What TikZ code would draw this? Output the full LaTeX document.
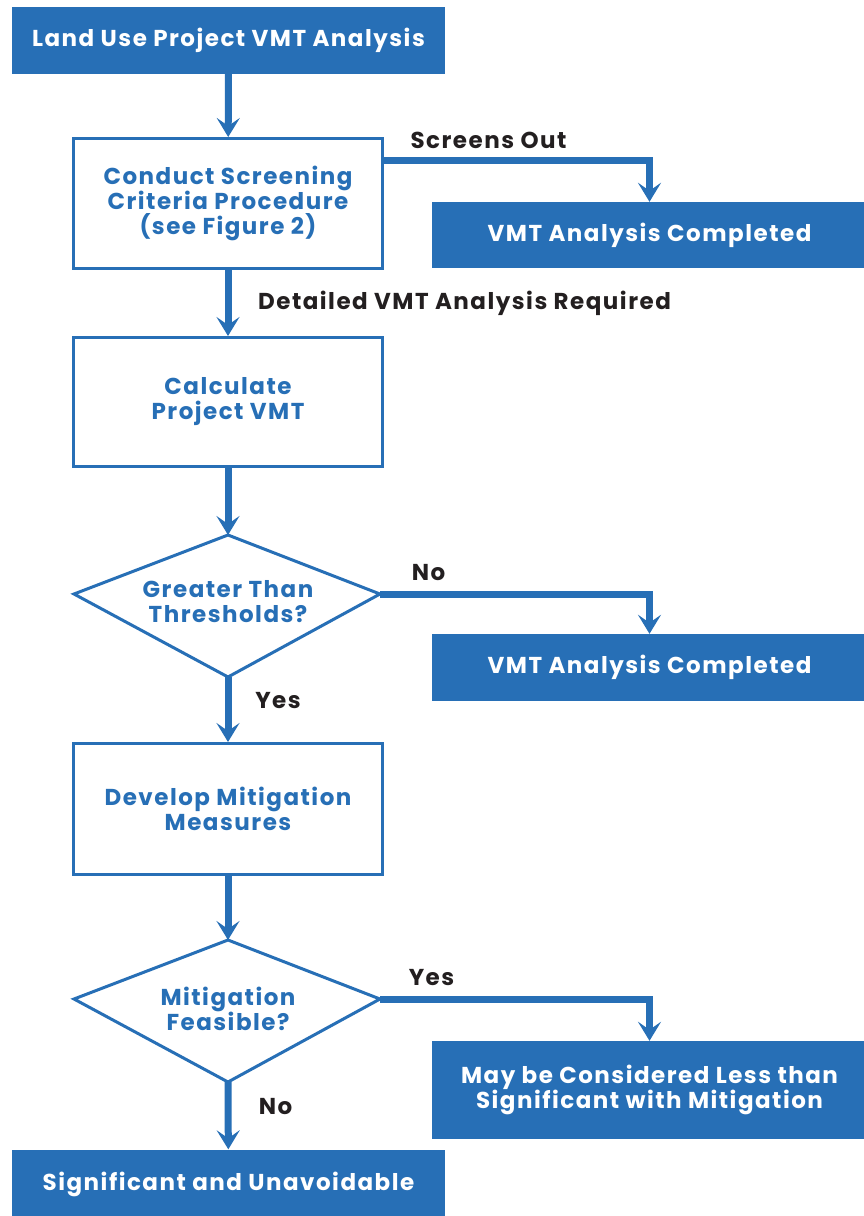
\documentclass[tikz,border=0pt]{standalone}
\usepackage{fontspec}
\setmainfont{Poppins}[LetterSpace=6.5]
\usetikzlibrary{arrows.meta}
\definecolor{vmtblue}{RGB}{39,111,182}
\definecolor{lblblack}{RGB}{35,31,32}

\begin{document}
\begin{tikzpicture}[x=1pt, y=-1pt,
  txt/.style = {font=\bfseries\fontsize{23}{25}\selectfont, align=center, inner sep=0pt},
  solidbox/.style = {txt, fill=vmtblue, text=white, minimum height=67pt},
  stepbox/.style = {txt, draw=vmtblue, line width=3pt, fill=white, text=vmtblue,
    minimum width=309pt, minimum height=130pt},
  decide/.style = {draw=vmtblue, line width=3pt, fill=white, line join=miter},
  lbl/.style = {txt, text=lblblack},
  flow/.style = {draw=vmtblue, line width=7pt,
    -{Stealth[length=19pt, width=23pt, inset=8pt]}}]
  \useasboundingbox (0,0) rectangle (863,1216);
  \node[solidbox, minimum width=433pt] (start) at (228.5,40) {Land Use Project VMT Analysis};
  \node[stepbox] (screen) at (228,203.5) {Conduct Screening\\Criteria Procedure\\(see Figure 2)};
  \node[solidbox, minimum width=435pt, minimum height=66pt] (done1) at (649.5,235) {VMT Analysis Completed};
  \node[stepbox, minimum height=129pt] (calc) at (228,402) {Calculate\\Project VMT};
  \coordinate (thrtop) at (228,535);
  \coordinate (thrright) at (380,594);
  \coordinate (thrbot) at (228,677);
  \coordinate (thrleft) at (74,594);
  \draw[decide] (thrtop) -- (thrright) -- (thrbot) -- (thrleft) -- cycle;
  \node[txt, text=vmtblue] (thr) at (228,602) {Greater Than\\Thresholds?};
  \node[solidbox, minimum width=435pt] (done2) at (649.5,667.5) {VMT Analysis Completed};
  \node[stepbox, minimum height=131pt] (mitig) at (228,809) {Develop Mitigation\\Measures};
  \coordinate (feastop) at (228,940);
  \coordinate (feasright) at (380,999);
  \coordinate (feasbot) at (228,1082);
  \coordinate (feasleft) at (74,999);
  \draw[decide] (feastop) -- (feasright) -- (feasbot) -- (feasleft) -- cycle;
  \node[txt, text=vmtblue] (feas) at (228,1009) {Mitigation\\Feasible?};
  \node[solidbox, minimum width=435pt, minimum height=98pt] (less) at (649.5,1090) {May be Considered Less than\\Significant with Mitigation};
  \node[solidbox, minimum width=433pt, minimum height=70pt] (signif) at (228.5,1184.5) {Significant and Unavoidable};

  \draw[flow] (start) -- (screen);
  \draw[flow] ([yshift=-23.5pt]screen.north east) -| (done1.north);
  \node[lbl] (outlbl) at (488.5,140) {Screens Out};
  \draw[flow] (screen) -- (calc);
  \node[lbl] (reqlbl) at (464.5,303) {Detailed VMT Analysis Required};
  \draw[flow] (calc) -- (thrtop);
  \draw[flow] (thrright) -| (done2.north);
  \node[lbl] (nolbl) at (428.5,573) {No};
  \draw[flow] (thrbot) -- (mitig);
  \node[lbl] (yeslbl) at (278,701) {Yes};
  \draw[flow] (mitig) -- (feastop);
  \draw[flow] (feasright) -| (less.north);
  \node[lbl] (yes2lbl) at (431.5,978) {Yes};
  \draw[flow] (feasbot) -- (signif);
  \node[lbl] (no2lbl) at (275.5,1107) {No};
\end{tikzpicture}
\end{document}
